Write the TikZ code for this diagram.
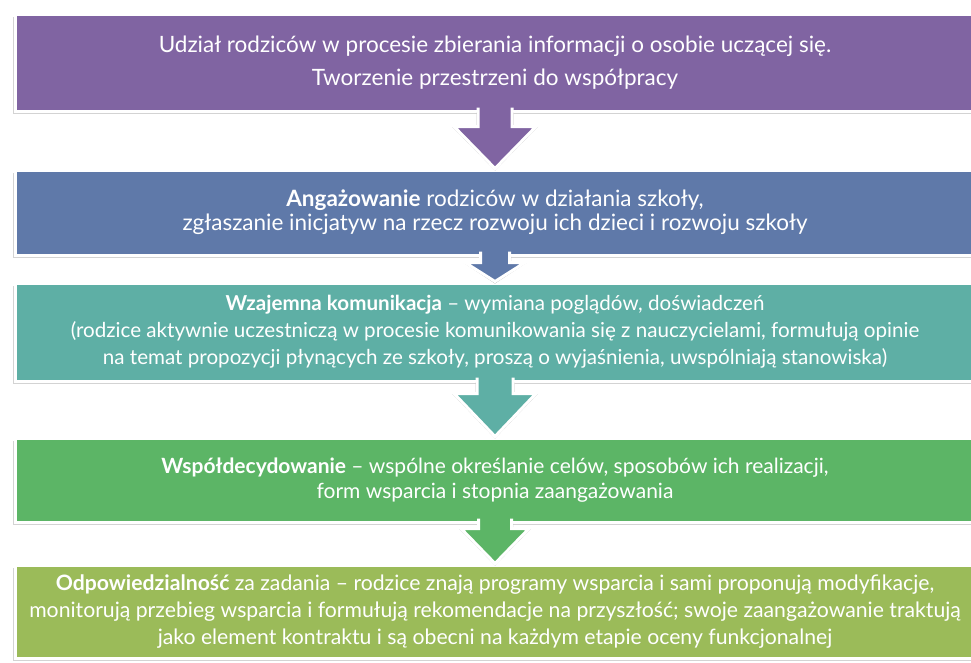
\documentclass[tikz,border=0pt]{standalone}
\usepackage{fontspec}
\setmainfont{Lato}
\usetikzlibrary{positioning,calc,shadows}

\definecolor{stageviolet}{HTML}{8064A2}
\definecolor{stageblue}{HTML}{5F79A9}
\definecolor{stageteal}{HTML}{5EAFA5}
\definecolor{stagegreen}{HTML}{5CB566}
\definecolor{stageolive}{HTML}{9BBB59}

\tikzset{
  stagebox/.style={rectangle, fill=#1, draw=white, line width=3pt,
    text=white, minimum width=960pt, inner sep=0pt, align=center,
    font=\fontsize{21}{27}\selectfont,
    drop shadow={shadow xshift=-2.5pt, shadow yshift=-3pt, opacity=.35}},
  stageshadow/.style={fill=black, opacity=.35},
}

% arrow from box #1 to box #2: colour #3, stem half width #4,
% head half width #5, depth of the shoulder below box #1 #6
\newcommand{\stagearrow}[6]{%
  \fill[stageshadow, shift={(-3pt,-4pt)}]
    ($(#1.south)+(-#4-1.5,0)$) -- ($(#1.south)+(-#4-1.5,#6)$) -- ($(#1.south)+(-#5-2,#6)$)
    -- ($(#2.north)+(0,2)$) -- ($(#1.south)+(#5+2,#6)$) -- ($(#1.south)+(#4+1.5,#6)$)
    -- ($(#1.south)+(#4+1.5,0)$) -- cycle;
  \filldraw[draw=white, fill=#3, line width=3pt, line join=miter]
    ($(#1.south)+(-#4,-5)$) -- ($(#1.south)+(-#4,#6)$) -- ($(#1.south)+(-#5,#6)$)
    -- (#2.north) -- ($(#1.south)+(#5,#6)$) -- ($(#1.south)+(#4,#6)$)
    -- ($(#1.south)+(#4,-5)$);
}

\begin{document}
\begin{tikzpicture}[x=1pt,y=-1pt]
	\useasboundingbox (0,0) rectangle (971,662);
	
	% the five stages
	\node[stagebox=stageviolet, minimum height=97pt, font=\fontsize{22.5}{33}\selectfont] (b1) at (495,62.5)
		{Udział rodziców w procesie zbierania informacji o osobie uczącej się.\\
		Tworzenie przestrzeni do współpracy};
	\node[stagebox=stageblue, minimum height=85pt, font=\fontsize{22.5}{24}\selectfont] (b2) at (495,212.5)
		{\textbf{Angażowanie} rodziców w działania szkoły,\\
		zgłaszanie inicjatyw na rzecz rozwoju ich dzieci i rozwoju szkoły};
	\node[stagebox=stageteal, minimum height=98pt, font=\fontsize{20.6}{27}\selectfont] (b3) at (495,332)
		{\textbf{Wzajemna komunikacja} – wymiana poglądów, doświadczeń\\
		(rodzice aktywnie uczestniczą w procesie komunikowania się z nauczycielami, formułują opinie\\
		na temat propozycji płynących ze szkoły, proszą o wyjaśnienia, uwspólniają stanowiska)};
	\node[stagebox=stagegreen, minimum height=84pt, font=\fontsize{21}{25}\selectfont] (b4) at (495,480)
		{\textbf{Współdecydowanie} – wspólne określanie celów, sposobów ich realizacji,\\
		form wsparcia i stopnia zaangażowania};
	\node[stagebox=stageolive, minimum height=93pt, font=\fontsize{21.2}{27}\selectfont] (b5) at (495,611.5)
		{\textbf{Odpowiedzialność} za zadania – rodzice znają programy wsparcia i sami proponują modyfikacje,\\
		monitorują przebieg wsparcia i formułują rekomendacje na przyszłość; swoje zaangażowanie traktują\\
		jako element kontraktu i są obecni na każdym etapie oceny funkcjonalnej};
	
	% arrows between the stages
	\stagearrow{b1}{b2}{stageviolet}{17}{41}{14}
	\stagearrow{b2}{b3}{stageblue}{14.5}{30}{6}
	\stagearrow{b3}{b4}{stageteal}{18}{41}{11}
	\stagearrow{b4}{b5}{stagegreen}{16.5}{34}{5}
\end{tikzpicture}
\end{document}
